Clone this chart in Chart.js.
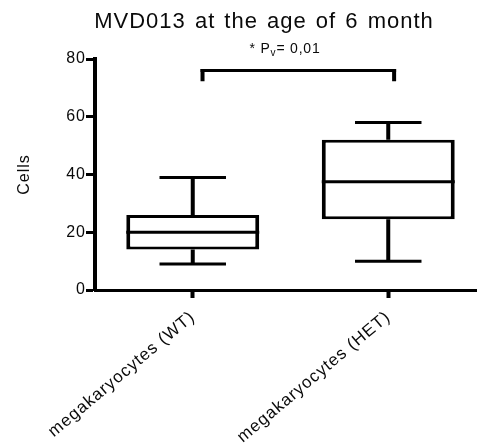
<!DOCTYPE html>
<html>
<head>
<meta charset="utf-8">
<script src="https://cdn.jsdelivr.net/npm/chart.js@4/dist/chart.umd.min.js"></script>
<style>
  html, body { margin: 0; padding: 0; background: #fff; overflow: hidden; }
  #wrap { width: 477px; height: 443px; overflow: hidden; }
</style>
</head>
<body>
<div id="wrap"><canvas id="boxChart" width="490" height="443"></canvas></div>
<script>
'use strict';

var categories = ['megakaryocytes (WT)', 'megakaryocytes (HET)'];
var mins    = [9, 10];
var q1s     = [14, 24.5];
var medians = [20, 37.5];
var q3s     = [26, 52];
var maxs    = [39, 58];
var yTicks  = [0, 20, 40, 60, 80];

var titleText = 'MVD013 at the age of 6 month';
var bracket = { from: 0.05, to: 1.03, top: 76, drop: 72.3 };

var ink = '#000';
var textColor = '#0a0a0a';
var fontFamily = 'Arial, "Liberation Sans", sans-serif';

// the original text is set a little wider than Arial
var spacing = {
    id: 'spacing',
    beforeUpdate: function (chart) { chart.ctx.letterSpacing = '1px'; },
    beforeDraw: function (chart) { chart.ctx.letterSpacing = '1px'; }
};

// whiskers, medians, significance bracket and title drawn through the scales
var boxExtras = {
    id: 'boxExtras',
    beforeDatasetsDraw: function (chart) {
        var ctx = chart.ctx, x = chart.scales.x, y = chart.scales.y;
        var meta = chart.getDatasetMeta(0);
        ctx.save();
        ctx.strokeStyle = ink;
        categories.forEach(function (c, i) {
            var cx = x.getPixelForValue(i);
            var half = meta.data[i].width / 4;
            ctx.lineWidth = 4;
            ctx.beginPath();
            ctx.moveTo(cx, y.getPixelForValue(q3s[i]));
            ctx.lineTo(cx, y.getPixelForValue(maxs[i]));
            ctx.moveTo(cx, y.getPixelForValue(q1s[i]));
            ctx.lineTo(cx, y.getPixelForValue(mins[i]));
            ctx.stroke();
            ctx.lineWidth = 3;
            ctx.beginPath();
            ctx.moveTo(cx - half, y.getPixelForValue(maxs[i]));
            ctx.lineTo(cx + half, y.getPixelForValue(maxs[i]));
            ctx.moveTo(cx - half, y.getPixelForValue(mins[i]));
            ctx.lineTo(cx + half, y.getPixelForValue(mins[i]));
            ctx.stroke();
        });
        ctx.restore();
    },
    afterDatasetsDraw: function (chart) {
        var ctx = chart.ctx, x = chart.scales.x, y = chart.scales.y;
        var meta = chart.getDatasetMeta(0);
        ctx.save();
        ctx.strokeStyle = ink;
        ctx.lineWidth = 3;
        categories.forEach(function (c, i) {
            var bar = meta.data[i];
            var my = y.getPixelForValue(medians[i]);
            ctx.beginPath();
            ctx.moveTo(bar.x - bar.width / 2, my);
            ctx.lineTo(bar.x + bar.width / 2, my);
            ctx.stroke();
        });

        // bracket
        var bx1 = x.getPixelForValue(bracket.from), bx2 = x.getPixelForValue(bracket.to);
        var by = y.getPixelForValue(bracket.top), byd = y.getPixelForValue(bracket.drop);
        ctx.beginPath();
        ctx.moveTo(bx1 - 2, by);
        ctx.lineTo(bx2 + 2, by);
        ctx.stroke();
        ctx.lineWidth = 4;
        ctx.beginPath();
        ctx.moveTo(bx1, byd);
        ctx.lineTo(bx1, by - 1.5);
        ctx.moveTo(bx2, byd);
        ctx.lineTo(bx2, by - 1.5);
        ctx.stroke();

        // p-value text with subscript
        ctx.letterSpacing = '0.8px';
        ctx.fillStyle = textColor;
        ctx.textBaseline = 'alphabetic';
        var big = '14px ' + fontFamily, small = '10px ' + fontFamily;
        var p1 = '* P', p2 = 'v', p3 = '= 0,01';
        ctx.font = big;
        var w1 = ctx.measureText(p1).width, w3 = ctx.measureText(p3).width;
        ctx.font = small;
        var w2 = ctx.measureText(p2).width;
        var total = w1 + w2 + w3;
        var tx = 285 - total / 2;
        var ty = 53;
        ctx.font = big;
        ctx.fillText(p1, tx, ty);
        ctx.font = small;
        ctx.fillText(p2, tx + w1, ty + 3);
        ctx.font = big;
        ctx.fillText(p3, tx + w1 + w2, ty);

        // title
        ctx.letterSpacing = '1px';
        ctx.wordSpacing = '2px';
        ctx.font = '22px ' + fontFamily;
        ctx.fillStyle = textColor;
        ctx.textAlign = 'center';
        ctx.fillText(titleText, 264, 28);
        ctx.wordSpacing = '0px';
        ctx.restore();
    }
};

var chart = new Chart(document.getElementById('boxChart'), {
    type: 'bar',
    data: {
        labels: categories,
        datasets: [{
            data: categories.map(function (c, i) { return [q1s[i], q3s[i]]; }),
            backgroundColor: '#fff',
            borderColor: ink,
            borderWidth: { left: 4, right: 4, top: 3, bottom: 3 },
            borderSkipped: false,
            barPercentage: 0.68,
            categoryPercentage: 1
        }]
    },
    options: {
        responsive: false,
        animation: false,
        devicePixelRatio: 1,
        layout: { padding: { left: 10, right: 4, top: 59, bottom: 0 } },
        plugins: { legend: { display: false }, tooltip: { enabled: false }, title: { display: false } },
        scales: {
            x: {
                offset: true,
                grid: { display: true, drawOnChartArea: false, drawTicks: true, tickLength: 8, tickWidth: 4, tickColor: ink, offset: false },
                border: { display: true, width: 3, color: ink },
                ticks: {
                    minRotation: 40, maxRotation: 40, padding: 9,
                    color: textColor,
                    font: { family: fontFamily, size: 17 }
                },
                afterFit: function (scale) { scale.height = 153; }
            },
            y: {
                min: 0, max: 80,
                afterBuildTicks: function (scale) {
                    scale.ticks = yTicks.map(function (v) { return { value: v }; });
                },
                grid: { display: true, drawOnChartArea: false, drawTicks: true, tickLength: 9, tickWidth: 3, tickColor: ink },
                border: { display: true, width: 4, color: ink },
                ticks: { padding: 0, color: textColor, font: { family: fontFamily, size: 16 } },
                title: {
                    display: true, text: 'Cells', color: textColor,
                    font: { family: fontFamily, size: 16 },
                    padding: { top: 5, bottom: 0 }
                },
                afterFit: function (scale) { scale.width = 85; }
            }
        }
    },
    plugins: [spacing, boxExtras]
});
</script>
</body>
</html>
